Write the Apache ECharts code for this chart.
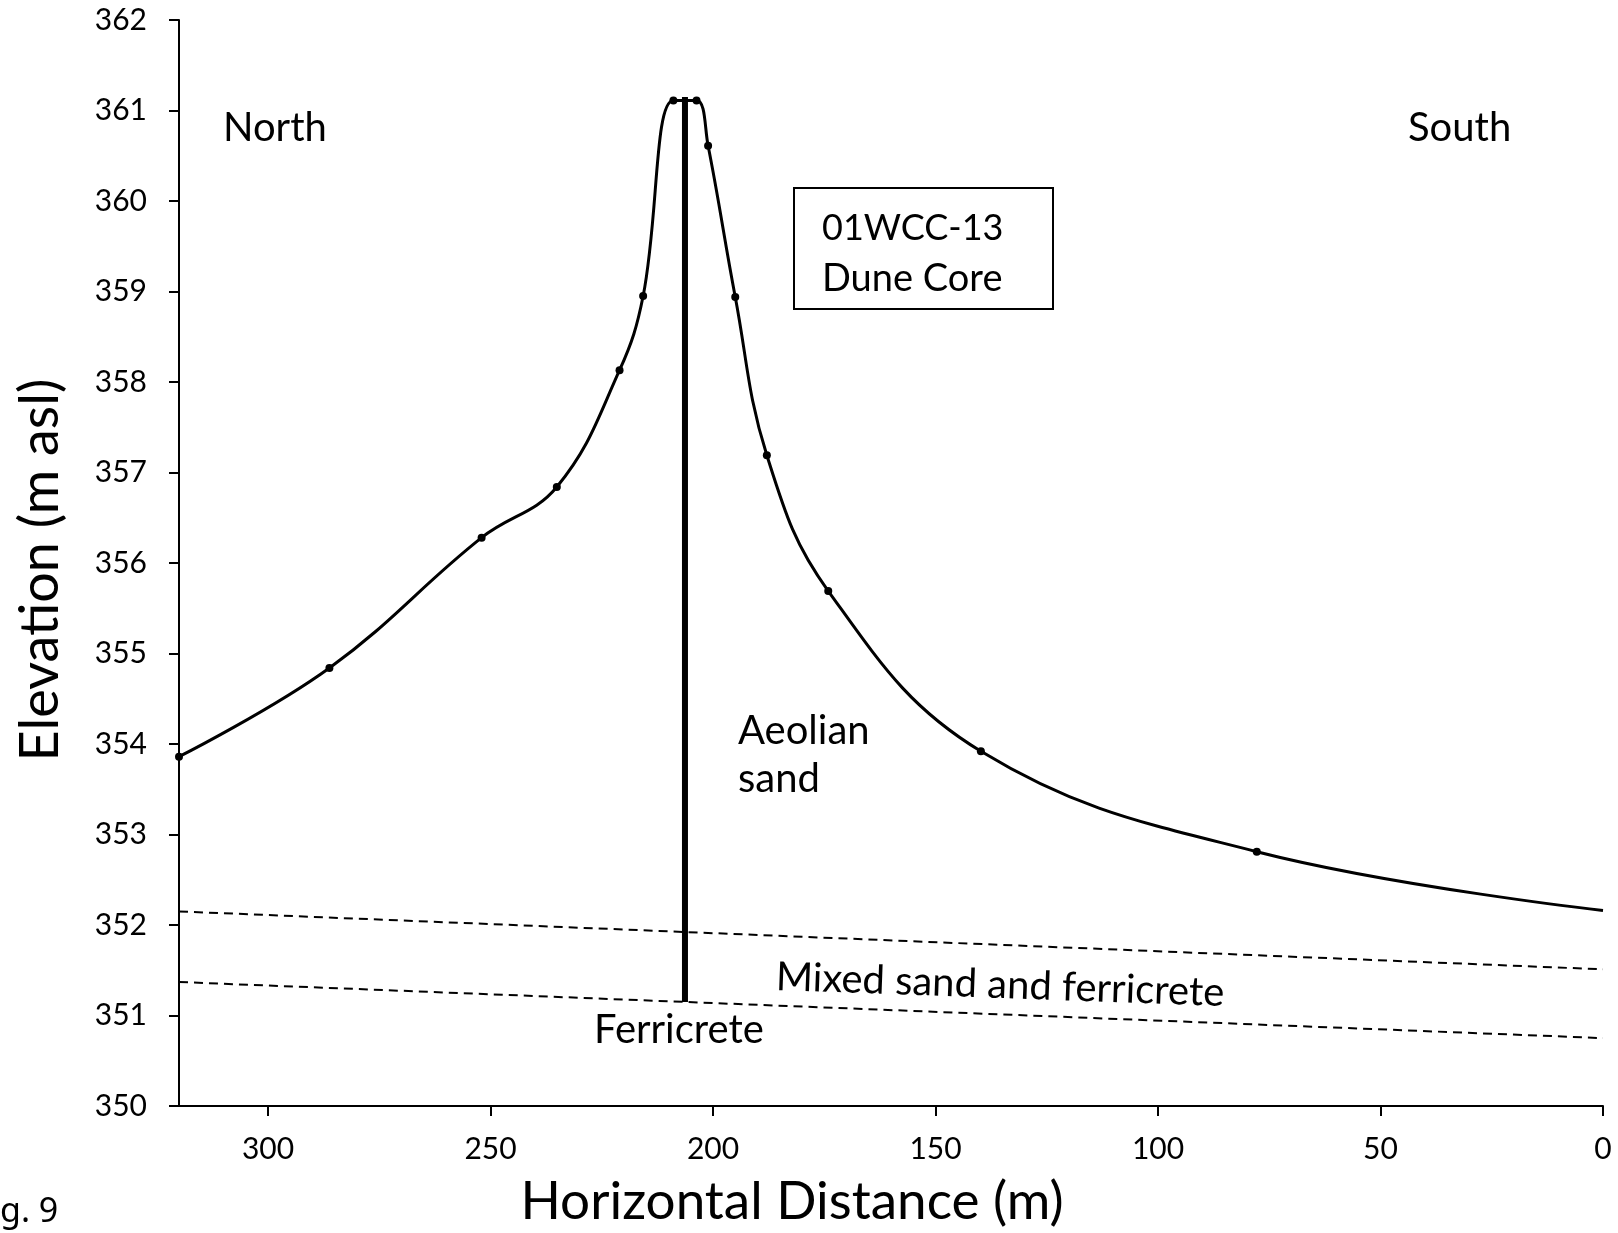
<!DOCTYPE html>
<html>
<head>
<meta charset="utf-8">
<script src="https://cdn.jsdelivr.net/npm/echarts@6/dist/echarts.min.js"></script>
<style>
  html, body { margin: 0; padding: 0; background: #fff; }
  #chart { width: 1618px; height: 1233px; }
</style>
</head>
<body>
<div id="chart"></div>
<script>
// ---- Data ----
const profileX = [320, 286.2, 252.0, 235.1, 221.0, 215.7, 208.9, 203.7, 201.1, 195.0, 187.9, 174.1, 139.8, 77.8, 0];
const profileY = [353.86, 354.84, 356.28, 356.84, 358.13, 358.95, 361.11, 361.11, 360.61, 358.94, 357.19, 355.69, 353.92, 352.81, 352.16];
const coreX = [206.3, 206.3];
const coreY = [351.15, 361.15];
const upperBoundX = [320, 0];
const upperBoundY = [352.15, 351.51];
const lowerBoundX = [320, 0];
const lowerBoundY = [351.37, 350.75];
const xTicks = [0, 50, 100, 150, 200, 250, 300];
const yTicks = [350, 351, 352, 353, 354, 355, 356, 357, 358, 359, 360, 361, 362];

const pairs = (xs, ys) => xs.map((x, i) => [x, ys[i]]);

const FONT = 'Lato, "Open Sans", sans-serif';
const chart = echarts.init(document.getElementById('chart'), null, { renderer: 'canvas' });

const textEl = (text, x, y, size, extra, family) => Object.assign({
  type: 'text', x: x, y: y, z: 100,
  style: { text: text, fontSize: size, fontFamily: family || FONT, fill: '#000', align: 'left', verticalAlign: 'middle' }
}, extra || {});

const profileData = pairs(profileX, profileY).map((p, i, arr) =>
  i === arr.length - 1 ? { value: p, symbol: 'none' } : p);

chart.setOption({
  backgroundColor: '#fff',
  animation: false,
  grid: { left: 179, right: 15, top: 20, bottom: 127, containLabel: false },
  xAxis: {
    type: 'value', inverse: true, min: 0, max: 320, interval: 50,
    axisLine: { show: true, onZero: false, lineStyle: { color: '#000', width: 2 } },
    axisTick: { show: true, length: 10, lineStyle: { color: '#000', width: 2 }, customValues: xTicks },
    axisLabel: { color: '#000', fontFamily: FONT, fontSize: 30, margin: 28, customValues: xTicks },
    splitLine: { show: false }
  },
  yAxis: {
    type: 'value', min: 350, max: 362, interval: 1,
    axisLine: { show: true, onZero: false, lineStyle: { color: '#000', width: 2 } },
    axisTick: { show: true, length: 10, lineStyle: { color: '#000', width: 2 }, customValues: yTicks },
    axisLabel: { color: '#000', fontFamily: FONT, fontSize: 30, margin: 32, customValues: yTicks },
    splitLine: { show: false }
  },
  series: [
    {
      name: 'Profile', type: 'line', data: profileData,
      smooth: 0.4, symbol: 'circle', symbolSize: 8, showSymbol: true,
      lineStyle: { color: '#000', width: 3 }, itemStyle: { color: '#000' }, z: 5
    },
    {
      name: 'Core', type: 'line', data: pairs(coreX, coreY),
      symbol: 'none', lineStyle: { color: '#000', width: 6 }, z: 4
    },
    {
      name: 'Upper boundary', type: 'line', data: pairs(upperBoundX, upperBoundY),
      symbol: 'none', lineStyle: { color: '#000', width: 2, type: [9, 6] }, z: 3
    },
    {
      name: 'Lower boundary', type: 'line', data: pairs(lowerBoundX, lowerBoundY),
      symbol: 'none', lineStyle: { color: '#000', width: 2, type: [9, 6] }, z: 3
    }
  ],
  graphic: [
    textEl('North', 223, 128, 40),
    textEl('South', 1408, 128, 40),
    { type: 'rect', shape: { x: 794, y: 188, width: 259, height: 121 }, style: { fill: '#fff', stroke: '#000', lineWidth: 2 }, z: 90 },
    textEl('01WCC-13', 822, 228, 36),
    textEl('Dune Core', 822, 279, 38),
    textEl('Aeolian', 738, 731, 40),
    textEl('sand', 738, 779, 40),
    textEl('Mixed sand and ferricrete', 776, 977, 40, { rotation: -0.036 }),
    textEl('Ferricrete', 594, 1030, 40),
    textEl('g. 9', 0, 1212, 34, null, '"Noto Sans", sans-serif'),
    {
      type: 'text', x: 792, y: 1202, z: 100,
      style: { text: 'Horizontal Distance (m)', fontSize: 53, fontFamily: FONT, fill: '#000', align: 'center', verticalAlign: 'middle' }
    },
    {
      type: 'text', x: 41, y: 570, rotation: Math.PI / 2, z: 100,
      style: { text: 'Elevation (m asl)', fontSize: 54, fontFamily: FONT, fill: '#000', align: 'center', verticalAlign: 'middle' }
    }
  ]
});
</script>
</body>
</html>
